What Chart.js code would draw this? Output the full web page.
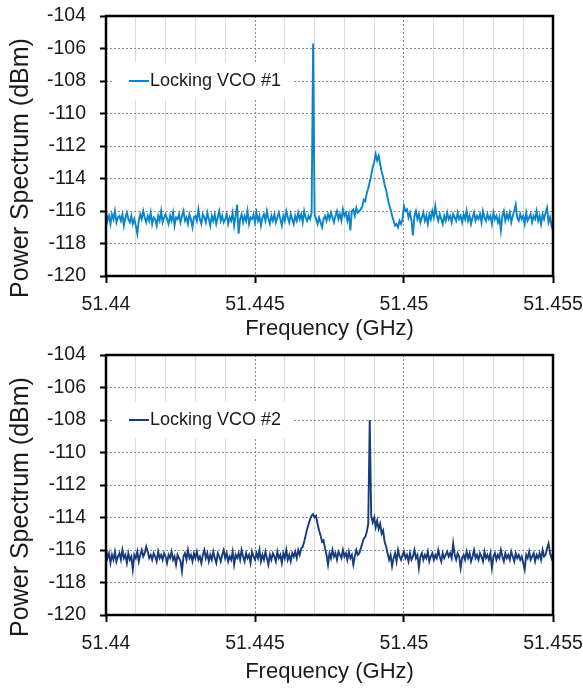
<!DOCTYPE html>
<html>
<head>
<meta charset="utf-8">
<script src="https://cdn.jsdelivr.net/npm/chart.js@4/dist/chart.umd.min.js"></script>
<style>
  html, body { margin: 0; padding: 0; background: #ffffff; }
  body { width: 583px; height: 688px; position: relative; overflow: hidden; }
  .panel { position: absolute; left: 0; width: 583px; }
  #p1 { top: 0; height: 344px; }
  #p2 { top: 339px; height: 349px; }
</style>
</head>
<body>
<div class="panel" id="p1"><canvas id="c1" width="583" height="344"></canvas></div>
<div class="panel" id="p2"><canvas id="c2" width="583" height="349"></canvas></div>
<script>
// ---- Data ----
const freqStart = 51.44;      // GHz, first sample
const freqStep = 0.00005;     // GHz, sample spacing
const xTickLabels = ["51.44", "51.445", "51.45", "51.455"];
const yTickValues = [-120, -118, -116, -114, -112, -110, -108, -106, -104];
const seriesNames = ["Locking VCO #1", "Locking VCO #2"];
const xTitle = "Frequency (GHz)";
const yTitle = "Power Spectrum (dBm)";

const vco1 = [
-116.1,-116.6,-116.3,-116.8,-116.2,-116.5,-116.0,-116.7,-116.4,-116.3,
-116.6,-116.2,-116.9,-116.4,-116.1,-116.5,-116.7,-116.3,-116.8,-116.5,
-116.9,-117.4,-116.6,-116.2,-116.5,-116.0,-116.4,-116.7,-116.3,-116.6,
-116.1,-116.8,-116.4,-116.5,-116.9,-116.3,-116.6,-116.0,-116.7,-116.4,
-116.2,-116.5,-116.8,-116.3,-116.6,-116.1,-116.9,-116.4,-116.5,-116.2,
-116.7,-116.3,-116.0,-116.6,-116.4,-116.8,-116.2,-116.5,-117.0,-116.4,
-116.3,-116.6,-115.9,-116.5,-116.8,-116.2,-116.4,-116.7,-116.1,-116.5,
-116.9,-116.3,-116.6,-116.2,-116.8,-116.4,-116.0,-116.6,-116.3,-116.7,
-116.5,-116.2,-116.8,-116.4,-116.6,-116.1,-116.9,-116.3,-115.6,-117.4,
-116.5,-116.2,-116.7,-116.3,-116.6,-116.0,-116.8,-116.4,-116.5,-116.2,
-116.7,-116.1,-116.6,-116.3,-116.9,-116.4,-116.2,-116.6,-116.0,-116.5,
-116.8,-116.3,-116.6,-116.2,-116.7,-116.4,-116.1,-116.5,-116.9,-116.3,
-116.6,-116.0,-116.4,-116.7,-116.2,-116.5,-116.8,-116.3,-116.6,-116.1,
-116.5,-116.2,-116.7,-116.0,-116.4,-116.6,-116.3,-116.5,-116.1,-105.7,
-116.2,-116.5,-116.8,-116.4,-116.7,-117.0,-116.5,-116.3,-116.6,-116.2,
-116.5,-116.1,-116.4,-116.7,-116.3,-116.0,-116.5,-116.2,-116.6,-115.9,
-116.3,-116.1,-116.6,-116.2,-117.2,-116.0,-115.9,-116.3,-115.8,-116.1,
-116.0,-115.9,-115.7,-115.3,-115.4,-114.9,-114.6,-114.2,-113.8,-113.3,
-113.0,-112.5,-112.9,-112.6,-113.1,-113.6,-113.9,-114.4,-114.7,-115.2,
-115.6,-115.9,-116.3,-116.6,-116.9,-116.8,-117.0,-116.6,-116.8,-116.5,
-115.7,-116.0,-115.9,-116.4,-116.1,-116.6,-117.5,-116.3,-116.0,-116.5,
-116.2,-116.7,-116.4,-116.1,-116.6,-116.3,-116.8,-116.2,-116.5,-116.0,
-116.4,-115.7,-116.3,-116.6,-116.2,-116.5,-116.8,-116.3,-116.6,-116.1,
-116.5,-116.3,-116.7,-116.2,-116.4,-116.6,-116.1,-116.5,-116.3,-116.7,
-116.2,-116.5,-116.0,-116.6,-116.3,-116.8,-116.4,-116.1,-116.6,-116.3,
-116.5,-116.2,-116.7,-116.0,-116.4,-116.6,-116.2,-116.5,-116.3,-116.8,
-116.1,-116.5,-116.3,-116.7,-116.4,-117.2,-116.3,-116.0,-116.6,-116.2,
-116.5,-116.1,-116.7,-116.3,-116.0,-115.6,-116.4,-116.6,-116.2,-116.5,
-116.3,-116.8,-116.1,-116.6,-116.4,-116.2,-116.7,-116.3,-116.5,-116.0,
-116.6,-116.3,-116.8,-116.2,-116.5,-116.1,-115.8,-116.7,-116.4,-116.9,
-116.6
];

const vco2 = [
-116.0,-116.5,-116.2,-116.8,-116.3,-116.6,-116.1,-116.7,-116.4,-116.2,
-116.6,-116.0,-116.5,-116.3,-116.8,-116.2,-116.6,-116.4,-117.2,-116.3,
-116.5,-116.1,-116.7,-116.3,-116.0,-116.4,-116.2,-115.8,-116.1,-116.5,
-116.3,-116.6,-116.2,-116.4,-116.7,-116.1,-116.5,-116.3,-116.6,-116.2,
-116.4,-116.8,-116.3,-116.5,-116.1,-116.6,-116.4,-116.9,-116.3,-116.5,
-116.7,-117.3,-116.4,-116.2,-116.6,-116.0,-116.5,-116.3,-116.7,-116.2,
-116.5,-116.1,-116.6,-116.4,-116.8,-116.3,-116.0,-116.5,-116.2,-116.7,
-116.3,-116.6,-116.1,-116.5,-116.8,-116.2,-116.4,-116.7,-116.3,-116.0,
-116.5,-116.2,-116.7,-116.4,-116.6,-116.1,-116.9,-116.3,-116.5,-116.2,
-116.6,-116.0,-116.4,-116.7,-116.2,-116.5,-116.3,-116.8,-116.1,-116.4,
-116.6,-116.2,-116.5,-116.0,-116.7,-116.3,-116.6,-116.1,-116.5,-116.9,
-116.3,-116.6,-116.2,-116.4,-116.7,-116.1,-116.5,-116.3,-116.8,-116.2,
-116.5,-116.0,-116.6,-116.3,-116.7,-116.2,-116.4,-116.1,-116.5,-116.0,
-116.3,-115.9,-115.8,-115.5,-115.1,-114.7,-114.4,-114.1,-113.9,-113.8,
-114.0,-113.9,-114.4,-114.8,-115.1,-115.5,-115.4,-115.9,-116.3,-116.9,
-116.2,-116.5,-116.0,-116.4,-116.2,-116.6,-116.1,-116.3,-116.5,-116.0,
-116.4,-116.2,-116.6,-116.1,-116.5,-116.3,-116.9,-116.4,-116.0,-116.3,
-116.2,-115.9,-115.6,-115.3,-115.2,-114.9,-114.4,-108.0,-113.9,-114.3,
-114.0,-114.6,-114.2,-114.7,-114.4,-115.0,-114.8,-115.5,-115.8,-116.2,
-116.6,-116.3,-117.0,-116.5,-116.2,-116.7,-116.0,-116.4,-116.6,-116.3,
-116.1,-116.5,-116.3,-116.7,-116.2,-116.6,-116.4,-116.0,-116.5,-116.3,
-117.1,-116.4,-116.2,-116.6,-116.3,-116.5,-116.1,-116.7,-116.4,-116.2,
-116.6,-116.3,-116.5,-116.0,-116.4,-116.7,-116.2,-116.5,-116.3,-116.1,
-116.4,-116.2,-116.5,-115.6,-116.3,-116.6,-116.2,-116.4,-117.1,-116.5,
-116.3,-116.6,-116.1,-116.5,-116.2,-116.7,-116.4,-116.0,-116.5,-116.3,
-116.6,-116.2,-116.4,-116.7,-116.1,-116.5,-116.3,-116.6,-116.2,-117.1,
-116.4,-116.2,-116.6,-116.3,-116.5,-116.0,-116.4,-116.7,-116.2,-116.5,
-116.3,-116.6,-116.1,-116.4,-116.7,-116.2,-116.5,-116.3,-116.6,-116.4,
-116.8,-117.2,-116.3,-116.5,-116.1,-116.6,-116.4,-116.2,-116.7,-116.3,
-116.5,-116.2,-116.6,-116.0,-116.4,-116.3,-115.9,-115.6,-116.2,-116.5,
-116.2
];

// ---- Styling / layout ----
const FONT = "'Liberation Sans', Arial, Helvetica, sans-serif";
Chart.defaults.font.family = FONT;
Chart.defaults.color = '#1a1a1a';

function isMajor(v) {
  const r = v * 200;
  return Math.abs(r - Math.round(r)) < 1e-6;
}
function toPoints(arr) {
  return arr.map((y, i) => ({ x: freqStart + i * freqStep, y: y }));
}
function noPad(s) {
  s.paddingLeft = 0; s.paddingRight = 0; s.paddingTop = 0; s.paddingBottom = 0;
}

const framePlugin = {
  id: 'frame',
  afterDraw(chart) {
    const a = chart.chartArea, ctx = chart.ctx;
    ctx.save();
    ctx.strokeStyle = '#000';
    ctx.lineWidth = 2.5;
    ctx.strokeRect(a.left, a.top, a.right - a.left, a.bottom - a.top);
    ctx.restore();
  }
};

// y-axis title, placed like the reference (slightly below the plot centre)
const yTitlePlugin = {
  id: 'yTitle',
  afterDraw(chart) {
    const a = chart.chartArea, ctx = chart.ctx;
    ctx.save();
    ctx.translate(21, (a.top + a.bottom) / 2 + 22);
    ctx.rotate(-Math.PI / 2);
    ctx.fillStyle = '#1a1a1a';
    ctx.font = '25px ' + FONT;
    ctx.textAlign = 'center';
    ctx.textBaseline = 'middle';
    ctx.fillText(yTitle, 0, 0);
    ctx.restore();
  }
};

const insideLegend = {
  id: 'insideLegend',
  beforeDatasetsDraw(chart) {
    const a = chart.chartArea, ctx = chart.ctx;
    const ds = chart.data.datasets[0];
    const yc = chart.scales.y.getPixelForValue(-108);
    const x0 = a.left + 7;
    ctx.save();
    ctx.fillStyle = '#ffffff';
    ctx.fillRect(x0, yc - 18.5, 180, 37);
    ctx.strokeStyle = ds.borderColor;
    ctx.lineWidth = 2;
    ctx.beginPath();
    ctx.moveTo(a.left + 23, yc);
    ctx.lineTo(a.left + 43, yc);
    ctx.stroke();
    ctx.fillStyle = '#1a1a1a';
    ctx.font = '18px ' + FONT;
    ctx.textBaseline = 'middle';
    ctx.textAlign = 'left';
    ctx.fillText(ds.label, a.left + 44, yc + 0.5);
    ctx.restore();
  }
};

function makeChart(canvasId, name, values, color, xAxisHeight, titlePadBottom) {
  return new Chart(document.getElementById(canvasId), {
    type: 'line',
    data: {
      datasets: [{
        label: name,
        data: toPoints(values),
        borderColor: color,
        backgroundColor: color,
        borderWidth: 1.9,
        pointRadius: 0,
        tension: 0,
        fill: false
      }]
    },
    options: {
      responsive: false,
      animation: false,
      devicePixelRatio: 1,
      layout: { padding: { left: 0, right: 30, top: 16, bottom: 0 } },
      plugins: { legend: { display: false }, tooltip: { enabled: false } },
      scales: {
        x: {
          type: 'linear',
          min: 51.44,
          max: 51.455,
          afterFit(s) { s.height = xAxisHeight; noPad(s); },
          ticks: {
            stepSize: 0.001,
            autoSkip: false,
            maxRotation: 0,
            minRotation: 0,
            padding: 10,
            color: '#1a1a1a',
            font: { size: 19.5 },
            callback(v) {
              if (!isMajor(v)) return '';
              const k = Math.round((v - 51.44) * 200);
              return xTickLabels[k] !== undefined ? xTickLabels[k] : '';
            }
          },
          grid: {
            color: (c) => (c.tick && isMajor(c.tick.value)) ? '#8a8a8a' : '#dadada',
            lineWidth: 1,
            drawTicks: true,
            tickLength: 7,
            tickWidth: 2,
            tickColor: (c) => (c.tick && isMajor(c.tick.value)) ? '#000' : 'rgba(0,0,0,0)'
          },
          border: {
            display: false,
            dash: (c) => (c.tick && isMajor(c.tick.value)) ? [2, 2] : []
          },
          title: {
            display: true,
            text: xTitle,
            color: '#1a1a1a',
            font: { size: 22 },
            padding: { top: 0, bottom: titlePadBottom }
          }
        },
        y: {
          type: 'linear',
          min: -120,
          max: -104,
          afterFit(s) { s.width = 106; noPad(s); },
          afterBuildTicks(s) { s.ticks = yTickValues.map(v => ({ value: v })); },
          ticks: {
            stepSize: 2,
            padding: 14,
            color: '#1a1a1a',
            font: { size: 19.5 }
          },
          grid: {
            color: '#8a8a8a',
            lineWidth: 1,
            drawTicks: true,
            tickLength: 6,
            tickWidth: 2,
            tickColor: '#000'
          },
          border: { display: false, dash: [2, 2] },
          title: { display: false }
        }
      }
    },
    plugins: [insideLegend, framePlugin, yTitlePlugin]
  });
}

makeChart('c1', seriesNames[0], vco1, '#0B84C9', 68, 2);
makeChart('c2', seriesNames[1], vco2, '#163C7E', 73, 3);
</script>
</body>
</html>
